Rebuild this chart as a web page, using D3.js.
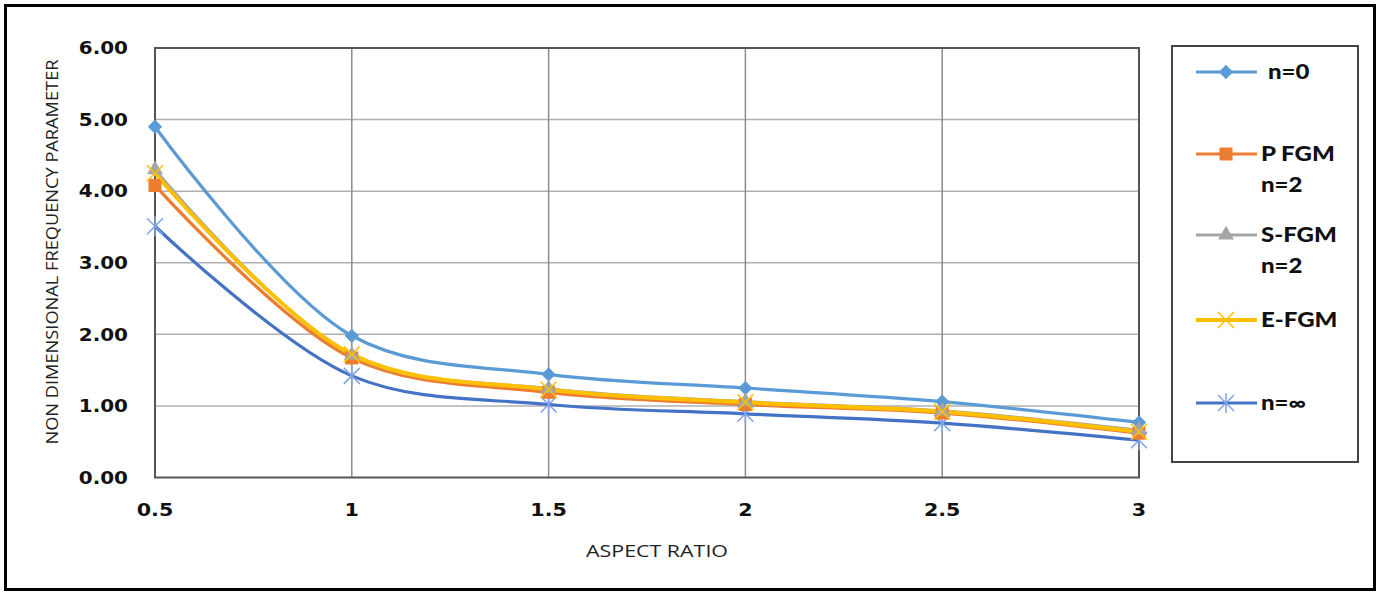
<!DOCTYPE html>
<html><head><meta charset="utf-8">
<script src="https://cdn.jsdelivr.net/npm/d3@7"></script>
<style>html,body{margin:0;padding:0;background:#fff}svg{display:block}</style>
</head><body><svg id="c" width="1380" height="592"></svg>
<script>
const aspectRatios = [0.5, 1, 1.5, 2, 2.5, 3];
const xTickLabels = ["0.5", "1", "1.5", "2", "2.5", "3"];
const yTicks = [0, 1, 2, 3, 4, 5, 6];
const seriesNames = ["n=0", "P FGM\nn=2", "S-FGM\nn=2", "E-FGM", "n=∞"];
const n0 =     [4.90, 1.98, 1.44, 1.25, 1.06, 0.77];
const pFGM =   [4.08, 1.67, 1.19, 1.02, 0.90, 0.62];
const sFGM =   [4.30, 1.71, 1.24, 1.06, 0.93, 0.66];
const eFGM =   [4.25, 1.72, 1.23, 1.05, 0.92, 0.64];
const nInf =   [3.51, 1.42, 1.02, 0.89, 0.76, 0.52];

const seriesData = [n0, pFGM, sFGM, eFGM, nInf];
const colors = ["#5B9BD5", "#ED7D31", "#A5A5A5", "#FFC000", "#4472C4"];
const markerColors = ["#5B9BD5", "#ED7D31", "#A5A5A5", "#FFC000", "#7FA3E6"];
const markerTypes = ["diamond", "square", "triangle", "x", "star"];

const svg = d3.select("#c");
svg.append("rect").attr("x", 5.5).attr("y", 5.5).attr("width", 1369).attr("height", 584)
  .attr("fill", "none").attr("stroke", "#000").attr("stroke-width", 3);

const L = 155, R = 1139, T = 48, B = 477.5;
const x = d3.scaleLinear().domain([0.5, 3]).range([L, R]);
const y = d3.scaleLinear().domain([0, 6]).range([B, T]);

svg.append("g").selectAll("line").data(yTicks.slice(1)).join("line")
  .attr("x1", L).attr("x2", R).attr("y1", d => y(d)).attr("y2", d => y(d))
  .attr("stroke", "#b0b0b0").attr("stroke-width", 1.5);
svg.append("g").selectAll("line").data(aspectRatios.slice(1, -1)).join("line")
  .attr("x1", d => x(d)).attr("x2", d => x(d)).attr("y1", T).attr("y2", B)
  .attr("stroke", "#8c8c8c").attr("stroke-width", 1.5);
svg.append("rect").attr("x", L).attr("y", T).attr("width", R - L).attr("height", B - T)
  .attr("fill", "none").attr("stroke", "#555").attr("stroke-width", 2);

function stretch(sel, f) {
  sel.each(function () { this.setAttribute("textLength", this.getComputedTextLength() * f); })
     .attr("lengthAdjust", "spacingAndGlyphs");
}

const yl = svg.append("g").selectAll("text").data(yTicks).join("text")
  .attr("x", 128).attr("y", d => y(d)).attr("dy", "0.36em")
  .attr("text-anchor", "end")
  .style("font-family", "'DejaVu Sans', Verdana, sans-serif").style("font-weight", "bold")
  .style("font-size", "17.5px").attr("fill", "#111")
  .text(d => d3.format(".2f")(d));
stretch(yl, 1.14);
const xl = svg.append("g").selectAll("text").data(aspectRatios).join("text")
  .attr("x", d => x(d)).attr("y", 516)
  .attr("text-anchor", "middle")
  .style("font-family", "'DejaVu Sans', Verdana, sans-serif").style("font-weight", "bold")
  .style("font-size", "17.5px").attr("fill", "#111")
  .text((d, i) => xTickLabels[i]);
stretch(xl, 1.18);

svg.append("text").attr("x", 657).attr("y", 557).attr("text-anchor", "middle")
  .style("font-family", "'Open Sans', sans-serif").style("font-size", "16px")
  .attr("fill", "#222").attr("textLength", 142).attr("lengthAdjust", "spacingAndGlyphs")
  .text("ASPECT RATIO");
svg.append("text").attr("transform", "translate(58,252) rotate(-90)").attr("text-anchor", "middle")
  .style("font-family", "'Open Sans', sans-serif").style("font-size", "16px")
  .attr("fill", "#222").attr("textLength", 385).attr("lengthAdjust", "spacingAndGlyphs")
  .text("NON DIMENSIONAL FREQUENCY PARAMETER");

const line = d3.line().x((d, i) => x(aspectRatios[i])).y(d => y(d)).curve(d3.curveCatmullRom.alpha(0.5));
const drawOrder = [0, 4, 1, 2, 3];
drawOrder.forEach(k => {
  svg.append("path").datum(seriesData[k]).attr("d", line)
    .attr("fill", "none").attr("stroke", colors[k]).attr("stroke-width", k === 3 ? 4 : 3.2)
    .attr("stroke-linejoin", "round");
});

function drawMarker(g, type, cx, cy, col) {
  if (type === "diamond") {
    g.append("path").attr("d", d3.symbol(d3.symbolDiamond2, 130)()).attr("transform", `translate(${cx},${cy})`).attr("fill", col);
  } else if (type === "square") {
    g.append("rect").attr("x", cx - 6.5).attr("y", cy - 6.5).attr("width", 13).attr("height", 13).attr("fill", col);
  } else if (type === "triangle") {
    g.append("path").attr("d", d3.symbol(d3.symbolTriangle, 110)()).attr("transform", `translate(${cx},${cy})`).attr("fill", col);
  } else if (type === "x") {
    g.append("path").attr("d", `M${cx-8},${cy-8}L${cx+8},${cy+8}M${cx-8},${cy+8}L${cx+8},${cy-8}`)
      .attr("stroke", col).attr("stroke-width", 1.5).attr("fill", "none");
  } else if (type === "star") {
    g.append("path").attr("d", `M${cx-8},${cy-8}L${cx+8},${cy+8}M${cx-8},${cy+8}L${cx+8},${cy-8}M${cx},${cy-10}L${cx},${cy+10}`)
      .attr("stroke", col).attr("stroke-width", 1.5).attr("fill", "none");
  }
}
drawOrder.forEach(k => {
  const g = svg.append("g");
  seriesData[k].forEach((v, i) => drawMarker(g, markerTypes[k], x(aspectRatios[i]), y(v), markerColors[k]));
});

svg.append("rect").attr("x", 1172).attr("y", 46).attr("width", 186).attr("height", 416)
  .attr("fill", "none").attr("stroke", "#444").attr("stroke-width", 2);
const legendY = [72, 154, 235, 320, 403];
seriesNames.forEach((name, k) => {
  const g = svg.append("g");
  const ly = legendY[k];
  g.append("line").attr("x1", 1196).attr("x2", 1257).attr("y1", ly).attr("y2", ly)
    .attr("stroke", colors[k]).attr("stroke-width", k === 3 ? 4 : 3.2);
  drawMarker(g, markerTypes[k], 1226, ly, markerColors[k]);
  const lines = name.split("\n");
  const tx = k === 0 ? 1268 : 1261;
  lines.forEach((t, j) => {
    const te = g.append("text").attr("x", tx).attr("y", ly + j * 31).attr("dy", "0.36em")
      .style("font-family", "Lato, sans-serif").style("font-weight", "900").style("font-size", "20px")
      .attr("fill", "#111").text(t);
    stretch(te, 1.2);
  });
});
</script></body></html>
